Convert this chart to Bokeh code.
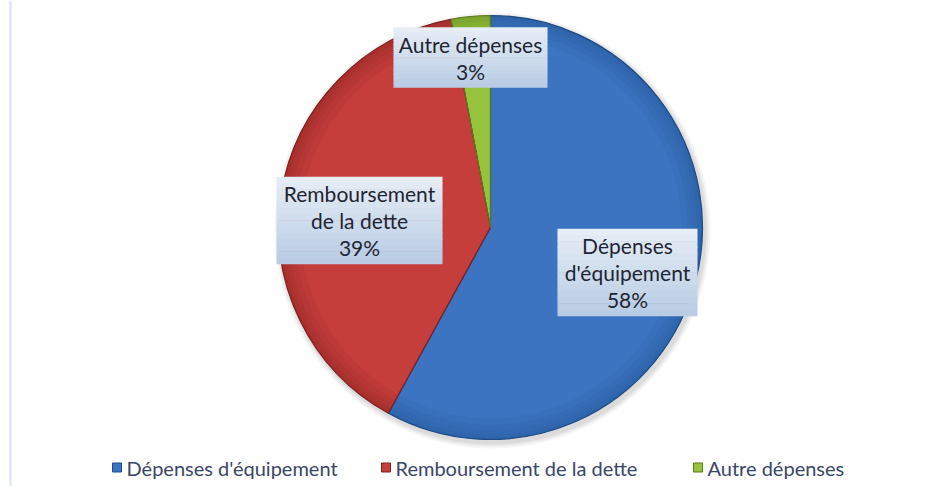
import math
from bokeh.plotting import figure
from bokeh.models import Range1d, ColumnDataSource
from bokeh.core.properties import value
from bokeh.embed import file_html
from bokeh.resources import INLINE

# ---- data ----
categories = ["Dépenses d'équipement", "Remboursement de la dette", "Autre dépenses"]
label_lines = [["Dépenses", "d'équipement"], ["Remboursement", "de la dette"], ["Autre dépenses"]]
shares = [58, 39, 3]
colors = ["#3d74c2", "#c53e3b", "#96c33d"]
rim_colors = ["#1f4b86", "#7f1f1d", "#5a7a1e"]

# ---- layout (pixel coordinates of the screenshot; y data = 502 - pixel y) ----
W, H = 914, 486
def Y(py):
    return 502 - py

cx, cy, r = 490, Y(227), 212
label_centers = [(627, 272), (359, 220), (470, 57)]   # pixel centers of the label boxes
label_boxes = [(140, 87), (166, 87), (154, 60)]
font = "Lato"

p = figure(width=W, height=H, output_backend="svg", toolbar_location=None,
           x_range=Range1d(0, W), y_range=Range1d(Y(H), Y(0)),
           min_border=0, x_axis_type=None, y_axis_type=None)
p.grid.visible = False
p.outline_line_color = None
p.background_fill_color = "white"
p.border_fill_color = "white"

# wedge angles: start at 12 o'clock, go clockwise
total = sum(shares)
starts, ends = [], []
acc = 0.0
for s in shares:
    a0 = math.pi / 2 - 2 * math.pi * (acc + s) / total
    a1 = math.pi / 2 - 2 * math.pi * acc / total
    starts.append(a0)
    ends.append(a1)
    acc += s

src = ColumnDataSource(dict(start=starts, end=ends, color=colors, rim=rim_colors, cat=categories))

# soft shadow
for d, al in [(6, 0.08), (4, 0.12), (2, 0.15)]:
    p.wedge(x=cx + 2, y=cy - 3, radius=r + d, start_angle="start", end_angle="end",
            fill_color="#8a8a8a", fill_alpha=al, line_color=None, source=src)
# main slices
p.wedge(x=cx, y=cy, radius=r, start_angle="start", end_angle="end",
        fill_color="color", line_color=None, source=src)
# darken toward rim for a bevelled look
for r0 in [0.90, 0.93, 0.955, 0.975, 0.99]:
    p.annular_wedge(x=cx, y=cy, inner_radius=r * r0, outer_radius=r, start_angle="start",
                    end_angle="end", fill_color="rim", fill_alpha=0.10, line_color=None,
                    source=src)
p.wedge(x=cx, y=cy, radius=r, start_angle="start", end_angle="end",
        fill_color=None, line_color="rim", line_width=1.2, source=src)

# data labels
def mix(c1, c2, t):
    a = [int(c1[i:i + 2], 16) for i in (1, 3, 5)]
    b = [int(c2[i:i + 2], 16) for i in (1, 3, 5)]
    return "#%02x%02x%02x" % tuple(round(a[k] + (b[k] - a[k]) * t) for k in range(3))

nstrip = 14
for i, (lx, ly) in enumerate(label_centers):
    bw, bh = label_boxes[i]
    top = Y(ly) + bh / 2
    sh = bh / nstrip
    p.rect(x=[lx] * nstrip, y=[top - sh * (k + 0.5) for k in range(nstrip)],
           width=bw, height=sh + 0.6,
           fill_color=[mix("#e6edf5", "#b9cce4", k / (nstrip - 1)) for k in range(nstrip)],
           line_color=None)
    lines = label_lines[i] + ["%d%%" % shares[i]]
    n = len(lines)
    step = 27
    ys = [Y(ly) + (n - 1) * step / 2 - j * step for j in range(n)]
    p.text(x=[lx] * n, y=ys, text=lines, text_align="center", text_baseline="middle",
           text_font=value(font), text_font_size="21px", text_color="#1e2533")

# legend
leg_x = [112, 381, 693]
leg_y = Y(467)
for i, cat in enumerate(categories):
    p.rect(x=leg_x[i] + 4.5, y=leg_y, width=9, height=9, fill_color=colors[i],
           line_color=rim_colors[i], line_width=1)
    p.text(x=[leg_x[i] + 14], y=[leg_y], text=[cat], text_align="left",
           text_baseline="middle", text_font=value(font), text_font_size="20px",
           text_color="#3a4666")

# light frame lines
p.segment(x0=[10], y0=[Y(0)], x1=[10], y1=[Y(494)], line_color="#d9e1f2", line_width=2)
p.segment(x0=[10], y0=[Y(495)], x1=[930], y1=[Y(495)], line_color="#f0f2f8", line_width=2)

open("out.html", "w").write(file_html(p, INLINE))
